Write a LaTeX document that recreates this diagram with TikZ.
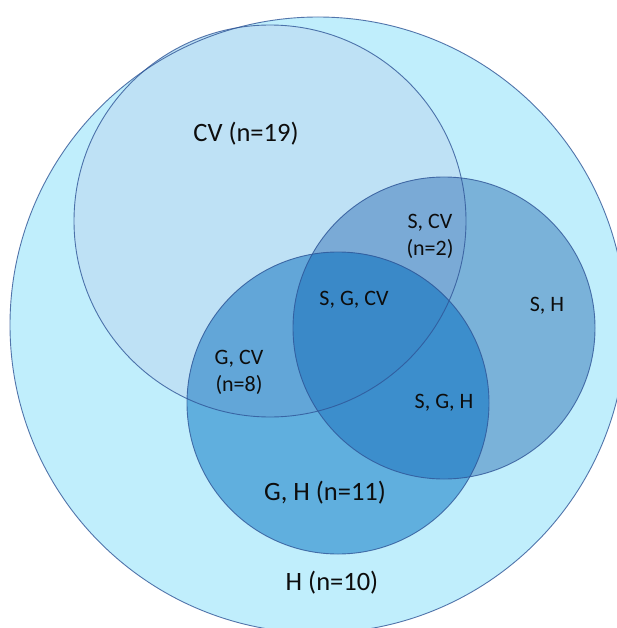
\documentclass[tikz,border=0pt]{standalone}
\usepackage{fontspec}
\setmainfont{Carlito}
\definecolor{cH}{HTML}{C0EEFC}
\definecolor{cCV}{HTML}{BEE1F5}
\definecolor{cS}{HTML}{7AB2D9}
\definecolor{cSCV}{HTML}{7AAAD6}
\definecolor{cG}{HTML}{60AFDE}
\definecolor{cGCV}{HTML}{62A6D8}
\definecolor{cSG}{HTML}{3C8ECC}
\definecolor{cSGCV}{HTML}{3A89C8}
\definecolor{edge}{HTML}{2F5597}
\definecolor{txt}{HTML}{0D0D0D}
\tikzset{
  rim/.style={draw=edge, draw opacity=0.8, line width=0.9pt},
  biglabel/.style={text=txt, font=\fontsize{26.5}{27}\selectfont, inner sep=0pt},
  smalllabel/.style={text=txt, font=\fontsize{22}{27}\selectfont, inner sep=0pt, align=center}
}
\begin{document}
\begin{tikzpicture}[x=1pt,y=-1pt]
\useasboundingbox (0,0) rectangle (617,628);
\clip (0,0) rectangle (617,628);
\fill[white] (0,0) rectangle (617,628);
\def\Hc{(318,325) circle[radius=308pt]}
\def\CVc{(270,221) circle[radius=196pt]}
\def\Sc{(444,328) circle[radius=151pt]}
\def\Gc{(338,403) circle[radius=151pt]}
% fills
\fill[cH] \Hc;
\fill[cCV] \CVc;
\fill[cS] \Sc;
\begin{scope}\clip \Sc; \fill[cSCV] \CVc; \end{scope}
\fill[cG] \Gc;
\begin{scope}\clip \Gc; \fill[cGCV] \CVc; \end{scope}
\begin{scope}\clip \Gc; \fill[cSG] \Sc; \end{scope}
\begin{scope}\clip \Gc; \clip \Sc; \fill[cSGCV] \CVc; \end{scope}
% outlines
\draw[rim] \Hc;
\draw[rim] \CVc;
\draw[rim] \Sc;
\draw[rim] \Gc;
% labels
\node[biglabel] (lcv) at (246,134) {CV (n=19)};
\node[smalllabel] (lscv) at (430,236) {S, CV\\(n=2)};
\node[smalllabel] (lsgcv) at (354,300) {S, G, CV};
\node[smalllabel] (lsh) at (547,306) {S, H};
\node[smalllabel] (lgcv) at (239,372) {G, CV\\(n=8)};
\node[smalllabel] (lsgh) at (444,403) {S, G, H};
\node[biglabel] (lgh) at (325,493) {G, H (n=11)};
\node[biglabel] (lh) at (332,583) {H (n=10)};
\end{tikzpicture}
\end{document}
